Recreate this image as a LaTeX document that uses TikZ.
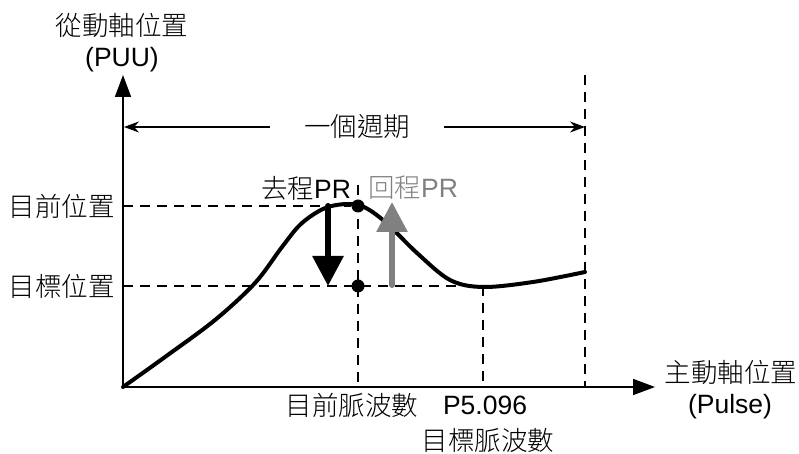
\documentclass[tikz,border=0pt]{standalone}
\usepackage{fontspec}
\setmainfont{Liberation Sans}
\newfontfamily\cjk{Noto Sans CJK TC Light}
\usetikzlibrary{positioning, arrows.meta}

\tikzset{
	lbl/.style={font=\fontsize{26.5}{31}\selectfont, inner sep=1pt},
	axis/.style={line width=1.6pt, -{Triangle[length=22pt,width=16pt]}},
	guide/.style={line width=1.3pt, dash pattern=on 10pt off 7pt},
	span/.style={line width=1.3pt, -{Stealth[length=15pt,width=11pt]}},
	dot/.style={circle, fill=black, inner sep=0pt, minimum size=13pt},
	move/.style={line width=6pt, line cap=round, -{Triangle[length=30pt,width=30pt]}},
}

\begin{document}
\begin{tikzpicture}[x=1pt, y=1pt]
	\useasboundingbox (0,0) rectangle (799,454);
	% --- PUNKTY ---
	\def\TopY{248}
	\def\GoalY{168}
	\coordinate (O) at (123,67);
	\coordinate (ytip) at (123,379);
	\coordinate (xtip) at (655,67);
	
	% Osie
	\draw[axis] (O) -- (ytip);
	\draw[axis] (O) -- (xtip);
	\node[lbl] (ylab) at (122,429) {\cjk 從動軸位置};
	\node[lbl] (yunit) at (122,394) {(PUU)};
	\node[lbl] (xlab) at (731,82) {\cjk 主動軸位置};
	\node[lbl] (xunit) at (730,47) {(Pulse)};
	
	% Jeden okres
	\coordinate (pL) at (124,327);
	\coordinate (pR) at (585,327);
	\node[lbl, inner xsep=34pt] (period) at (357,327) {\cjk 一個週期};
	\draw[span] (period.west) -- (pL);
	\draw[span] (period.east) -- (pR);
	
	% Linie pomocnicze (przerywane)
	\coordinate (endtop) at (585,379);
	\coordinate (endbot) at (585,67);
	\draw[guide] (endtop) -- (endbot);
	\node[dot] (peak) at (358,\TopY) {};
	\node[dot] (goal) at (358,\GoalY) {};
	\coordinate (ytop) at (123,\TopY);
	\coordinate (ygoal) at (123,\GoalY);
	\coordinate (gend) at (480,\GoalY);
	\coordinate (ctop) at (358,269);
	\coordinate (cbot) at (358,67);
	\coordinate (mtop) at (483,\GoalY);
	\coordinate (mbot) at (483,67);
	\draw[guide] (ytop) -- (peak);
	\draw[guide] (ygoal) -- (gend);
	\draw[guide] (ctop) -- (cbot);
	\draw[guide] (mtop) -- (mbot);
	
	% Etykiety osi Y
	\node[lbl, anchor=east] (curpos) at (116,\TopY) {\cjk 目前位置};
	\node[lbl, anchor=east] (tgtpos) at (116,\GoalY) {\cjk 目標位置};
	
	% Krzywa
	\draw[line width=4pt, line cap=round] plot[smooth, tension=0.55] coordinates {
		(123,67) (165,97) (215,134) (255,171) (282,207) (302,231) (328,247)
		(358,249) (383,234) (417,201) (450,174) (483,167) (533,172) (585,182)};
	
	% Strzalki PR
	\coordinate (goA) at (328,248);
	\coordinate (goB) at (328,168);
	\coordinate (backA) at (392,169);
	\coordinate (backB) at (392,252);
	\draw[move] (goA) -- (goB);
	\draw[move, draw=gray, fill=gray] (backA) -- (backB);
	\node[lbl] (go) at (306,266) {{\cjk 去程}PR};
	\node[lbl, text=gray] (back) at (413,266) {{\cjk 回程}PR};
	
	% Etykiety osi X
	\node[lbl] (curpulse) at (352,49) {\cjk 目前脈波數};
	\node[lbl] (param) at (485,49) {P5.096};
	\node[lbl] (tgtpulse) at (488,14) {\cjk 目標脈波數};
\end{tikzpicture}
\end{document}
